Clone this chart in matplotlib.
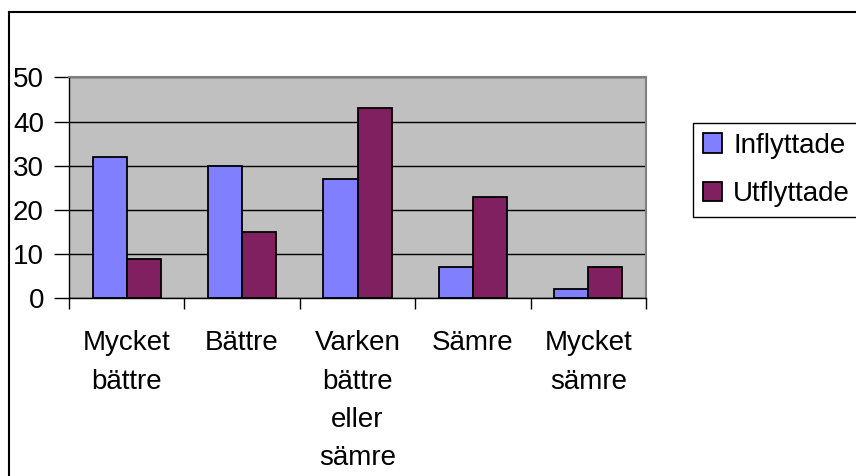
import matplotlib
matplotlib.use("Agg")
import matplotlib.pyplot as plt
from matplotlib.lines import Line2D
import numpy as np

categories = ["Mycket\nbättre", "Bättre", "Varken\nbättre\neller\nsämre", "Sämre", "Mycket\nsämre"]
inflyttade = [32, 30, 27, 7, 2]
utflyttade = [9, 15, 43, 23, 7]
series_names = ["Inflyttade", "Utflyttade"]
yticks = [0, 10, 20, 30, 40, 50]

plt.rcParams['font.family'] = ['Liberation Sans', 'DejaVu Sans']

W, H = 856, 476
fig = plt.figure(figsize=(W / 100, H / 100), dpi=100)
ax = fig.add_axes([69 / W, 1 - 298.3 / H, (646 - 69) / W, (298.3 - 77.3) / H])
ax.set_facecolor("#C0C0C0")

x = np.arange(len(categories))
bw = 0.295
ax.bar(x - bw / 2, inflyttade, bw, color="#8080FF", edgecolor="black", linewidth=1.3, zorder=3, label=series_names[0])
ax.bar(x + bw / 2, utflyttade, bw, color="#802060", edgecolor="black", linewidth=1.3, zorder=3, label=series_names[1])

ax.set_xlim(-0.5, len(categories) - 0.5)
ax.set_ylim(0, 50)
ax.set_yticks(yticks)
ax.set_yticklabels([str(v) for v in yticks])
ax.yaxis.grid(True, color="black", linewidth=1.0, zorder=1)
ax.set_axisbelow(True)

ax.set_xticks(np.arange(len(categories) + 1) - 0.5, minor=False)
ax.set_xticklabels([""] * (len(categories) + 1))
ax.set_xticks(x, minor=True)
ax.set_xticklabels(categories, minor=True, fontsize=20, linespacing=1.62, va="top", ha="center")
ax.tick_params(axis="x", which="major", length=8, width=1, color="black", direction="out")
ax.tick_params(axis="x", which="minor", length=0, pad=23)
ax.tick_params(axis="y", length=11, width=1, color="black", direction="out", labelsize=20, pad=7)

for s in ["top", "right"]:
    ax.spines[s].set_color("#808080")
    ax.spines[s].set_linewidth(1.5)
ax.spines["left"].set_color("black")
ax.spines["bottom"].set_color("black")
ax.spines["left"].set_linewidth(1.0)
ax.spines["bottom"].set_linewidth(1.0)

# outer chart border (top and left visible)
x0 = 9 / W
y0 = 1 - 12 / H
fig.add_artist(Line2D([x0, x0], [0, y0], transform=fig.transFigure, color="black", linewidth=1.5))
fig.add_artist(Line2D([x0, 1], [y0, y0], transform=fig.transFigure, color="black", linewidth=1.5))

leg = fig.legend(loc="upper left", bbox_to_anchor=(693 / W, 1 - 123 / H), fontsize=20,
                 frameon=True, fancybox=False, edgecolor="black", framealpha=1,
                 handlelength=0.7, handleheight=0.7, handletextpad=0.4,
                 labelspacing=0.8, borderpad=0.35, borderaxespad=0)
leg.get_frame().set_linewidth(1.0)

fig.savefig("out.png", dpi=100)
